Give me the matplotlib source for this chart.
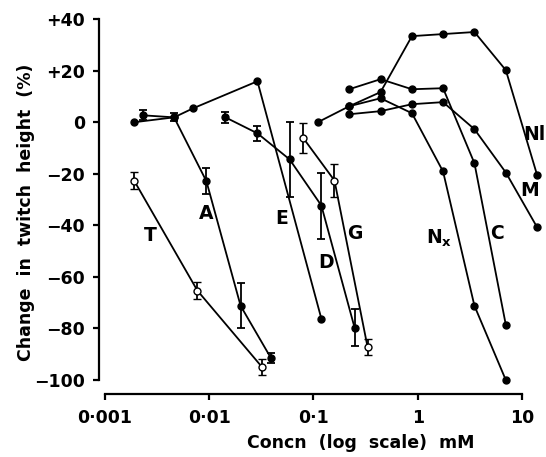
import matplotlib
matplotlib.use("Agg")
import matplotlib.pyplot as plt
import numpy as np

# concentrations (mM) and % change in twitch height
conc_T = [0.0019, 0.0077, 0.032]
val_T = [-22.6, -65.3, -94.9]
err_T = [3.3, 3.2, 3.0]

conc_A = [0.0023, 0.0046, 0.0094, 0.020, 0.039]
val_A = [2.7, 1.9, -22.9, -71.2, -91.4]
err_A = [2.0, 1.5, 5.0, 8.8, 2.0]

conc_E = [0.0019, 0.0046, 0.0070, 0.029, 0.119]
val_E = [0.0, 1.9, 5.4, 15.9, -76.2]

conc_D = [0.0143, 0.029, 0.059, 0.119, 0.248]
val_D = [1.9, -4.3, -14.4, -32.3, -79.7]
err_D = [2.0, 3.0, 14.6, 12.8, 7.2]

conc_G = [0.080, 0.159, 0.33]
val_G = [-6.2, -22.6, -87.1]
err_G = [5.9, 6.5, 3.0]

conc_Nl = [0.11, 0.22, 0.44, 0.88, 1.75, 3.5, 7.0, 14.0]
val_Nl = [0.0, 6.2, 11.7, 33.4, 34.2, 35.0, 20.2, -20.6]

conc_C = [0.22, 0.44, 0.88, 1.75, 3.5, 7.0]
val_C = [12.8, 16.7, 12.8, 13.2, -15.9, -78.6]

conc_M = [0.22, 0.44, 0.88, 1.75, 3.5, 7.0, 14.0]
val_M = [3.1, 4.3, 7.0, 7.8, -2.7, -19.5, -40.8]

conc_Nx = [0.22, 0.44, 0.88, 1.75, 3.5, 7.0]
val_Nx = [6.2, 9.3, 3.5, -19.1, -71.2, -100.0]

xticks = [0.001, 0.01, 0.1, 1, 10]
xticklabels = ["0·001", "0·01", "0·1", "1", "10"]
yticks = [40, 20, 0, -20, -40, -60, -80, -100]
yticklabels = ["+40", "+20", "0", "\u221220", "\u221240", "\u221260", "\u221280", "\u2212100"]

plt.rcParams["font.family"] = ["DejaVu Sans"]
plt.rcParams["font.weight"] = "bold"
plt.rcParams["axes.labelweight"] = "bold"
plt.rcParams["mathtext.default"] = "regular"

fig = plt.figure(figsize=(5.46, 4.57), dpi=100)
ax = fig.add_axes([0.1813, 0.1379, 0.8187, 0.840])

lw = 1.3
ms = 5
filled = dict(color="black", lw=lw, marker="o", ms=ms, mfc="black", mec="black")
opened = dict(color="black", lw=lw, marker="o", ms=ms, mfc="white", mec="black", mew=1.0)
ebar = dict(ecolor="black", elinewidth=1.3, capsize=3, capthick=1.3)

ax.errorbar(conc_T, val_T, yerr=err_T, **opened, **ebar, zorder=3)
ax.errorbar(conc_A, val_A, yerr=err_A, **filled, **ebar, zorder=3)
ax.plot(conc_E, val_E, **filled, zorder=3)
ax.errorbar(conc_D, val_D, yerr=err_D, **filled, **ebar, zorder=3)
ax.errorbar(conc_G, val_G, yerr=err_G, **opened, **ebar, zorder=3)
ax.plot(conc_Nl, val_Nl, **filled, zorder=3)
ax.plot(conc_C, val_C, **filled, zorder=3)
ax.plot(conc_M, val_M, **filled, zorder=3)
ax.plot(conc_Nx, val_Nx, **filled, zorder=3)

# curve labels
labels = [
    ("T", 0.0027, -44, "center"), ("A", 0.0093, -35.4, "center"),
    ("E", 0.050, -37.3, "center"), ("G", 0.25, -43.2, "center"),
    ("D", 0.131, -54.5, "center"), (r"N$_{x}$", 1.6, -45, "center"),
    ("C", 5.74, -43.2, "center"), ("M", 11.9, -26.4, "center"),
    ("Nl", 16.8, -4.7, "right"),
]
for txt, x, y, ha in labels:
    ax.text(x, y, txt, fontsize=13.5, ha=ha, va="center")

ax.set_xscale("log")
ax.set_xlim(0.000876, 17.0)
ax.set_ylim(-105.4, 43.5)
ax.minorticks_off()
ax.set_xticks(xticks)
ax.set_xticklabels(xticklabels)
ax.set_yticks(yticks)
ax.set_yticklabels(yticklabels)

for s in ["top", "right"]:
    ax.spines[s].set_visible(False)
ax.spines["left"].set_bounds(-100, 40)
ax.spines["bottom"].set_bounds(0.001, 10)
ax.spines["left"].set_linewidth(1.6)
ax.spines["bottom"].set_linewidth(1.6)
ax.tick_params(axis="y", direction="out", length=4, width=1.6, labelsize=12.5, pad=6)
ax.tick_params(axis="x", direction="out", length=4, width=1.6, labelsize=12.5, pad=7)

ax.set_ylabel("Change  in  twitch  height  (%)", fontsize=12.5)
ax.set_xlabel("Concn  (log  scale)  mM", fontsize=12.5)
ax.yaxis.set_label_coords(-0.143, 0.474)
ax.xaxis.set_label_coords(0.586, -0.105)

fig.savefig("out.png", dpi=100)
